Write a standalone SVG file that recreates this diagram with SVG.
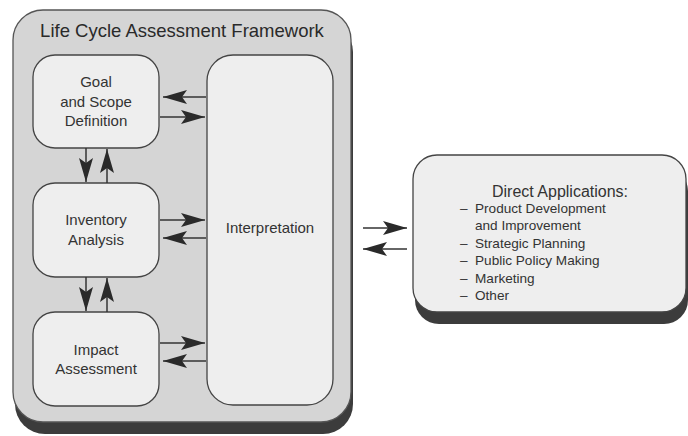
<svg xmlns="http://www.w3.org/2000/svg" width="688" height="436" viewBox="0 0 688 436">
  <style>
    .frame { fill: #d5d5d5; stroke: #555; stroke-width: 1.3; }
    .shadow { fill: #3c3c3c; }
    .box { fill: #eeeeee; stroke: #444; stroke-width: 1.3; }
    .lbl { font-family: "Liberation Sans", Arial, sans-serif; fill: #333; font-size: 15px; text-anchor: middle; }
    .title { font-size: 18.5px; fill: #2a2a2a; }
    .item { font-family: "Liberation Sans", Arial, sans-serif; fill: #333; font-size: 13.6px; }
    .conn { stroke: #333; stroke-width: 1.5; fill: none; marker-end: url(#head); }
  </style>
  <defs>
    <marker id="head" markerUnits="userSpaceOnUse" viewBox="0 0 24 14" refX="24" refY="7" markerWidth="24" markerHeight="14" orient="auto">
      <path d="M0,0 L24,7 L0,14 L5,7 Z" fill="#2a2a2a"/>
    </marker>
  </defs>
  <rect width="688" height="436" fill="#ffffff"/>

  <!-- framework container -->
  <g id="framework">
    <rect class="shadow" x="15" y="22" width="338" height="412" rx="30"/>
    <rect class="frame" x="13" y="10" width="338" height="412" rx="30"/>
    <text class="lbl title" x="182" y="37">Life Cycle Assessment Framework</text>
  </g>

  <g id="goal">
    <rect class="box" x="33" y="55" width="126" height="93" rx="22"/>
    <text class="lbl" x="96" y="87">Goal</text>
    <text class="lbl" x="96" y="107">and Scope</text>
    <text class="lbl" x="96" y="126">Definition</text>
  </g>

  <g id="inventory">
    <rect class="box" x="33" y="183" width="126" height="94" rx="22"/>
    <text class="lbl" x="96" y="225">Inventory</text>
    <text class="lbl" x="96" y="245">Analysis</text>
  </g>

  <g id="impact">
    <rect class="box" x="33" y="312" width="126" height="94" rx="22"/>
    <text class="lbl" x="96" y="355">Impact</text>
    <text class="lbl" x="96" y="374">Assessment</text>
  </g>

  <g id="interpretation">
    <rect class="box" x="207" y="55" width="126" height="350" rx="26"/>
    <text class="lbl" x="270" y="233">Interpretation</text>
  </g>

  <g id="applications">
    <rect class="shadow" x="415" y="167" width="273" height="157" rx="24"/>
    <rect class="box" x="413" y="155" width="273" height="157" rx="24"/>
    <text class="lbl" x="560" y="197" style="font-size:16px">Direct Applications:</text>
    <text class="item" x="460" y="213">–</text>
    <text class="item" x="475" y="213">Product Development</text>
    <text class="item" x="475" y="230">and Improvement</text>
    <text class="item" x="460" y="247.5">–</text>
    <text class="item" x="475" y="247.5">Strategic Planning</text>
    <text class="item" x="460" y="265">–</text>
    <text class="item" x="475" y="265">Public Policy Making</text>
    <text class="item" x="460" y="282.5">–</text>
    <text class="item" x="475" y="282.5">Marketing</text>
    <text class="item" x="460" y="300">–</text>
    <text class="item" x="475" y="300">Other</text>
  </g>

  <g id="connectors">
    <line class="conn" x1="206" y1="97" x2="163" y2="97"/>
    <line class="conn" x1="160" y1="117" x2="205" y2="117"/>
    <line class="conn" x1="86" y1="148" x2="86" y2="182"/>
    <line class="conn" x1="107" y1="183" x2="107" y2="149"/>
    <line class="conn" x1="160" y1="220" x2="205" y2="220"/>
    <line class="conn" x1="206" y1="238" x2="163" y2="238"/>
    <line class="conn" x1="86" y1="277" x2="86" y2="311"/>
    <line class="conn" x1="107" y1="312" x2="107" y2="278"/>
    <line class="conn" x1="160" y1="343" x2="205" y2="343"/>
    <line class="conn" x1="206" y1="361" x2="163" y2="361"/>
    <line class="conn" x1="363" y1="228" x2="407" y2="228"/>
    <line class="conn" x1="407" y1="249" x2="363" y2="249"/>
  </g>
</svg>
